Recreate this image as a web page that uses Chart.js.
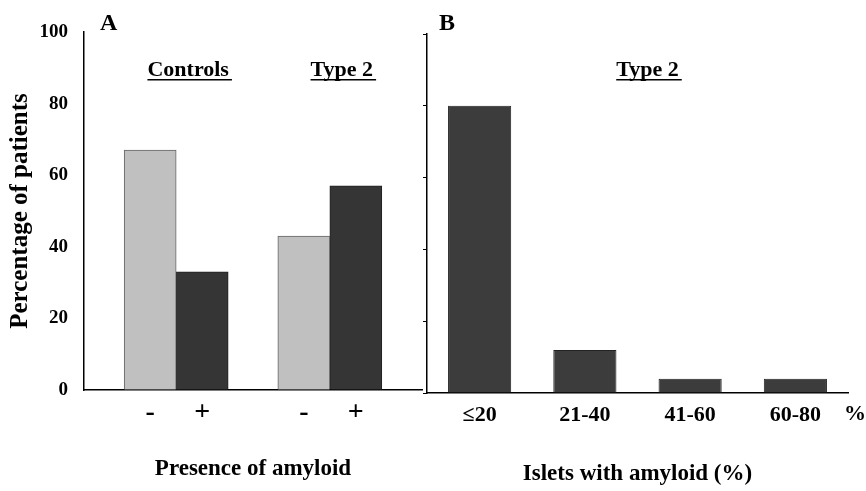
<!DOCTYPE html>
<html>
<head>
<meta charset="utf-8">
<script src="https://cdn.jsdelivr.net/npm/chart.js@4.4.1/dist/chart.umd.min.js"></script>
<style>
  html, body { margin: 0; padding: 0; background: #fff; }
  #wrap { position: relative; width: 866px; height: 491px; }
  canvas { position: absolute; top: 0; }
  #chartA { left: 0; }
  #chartB { left: 420px; }
</style>
</head>
<body>
<div id="wrap">
  <canvas id="chartA" width="430" height="491"></canvas>
  <canvas id="chartB" width="446" height="491"></canvas>
</div>
<script>
// panel A: presence of amyloid, controls vs type 2
const groups = ['Controls', 'Type 2'];
const amyloidSigns = ['-', '+'];
const withoutAmyloid = [67, 43];
const withAmyloid = [33, 57];

// panel B: type 2 patients by share of islets with amyloid
const isletBins = ['\u226420', '21-40', '41-60', '60-80'];
const type2Patients = [80, 12, 4, 4];

const serif = "'Liberation Serif', 'Times New Roman', serif";

function underlined(ctx, text, x, y) {
  ctx.font = 'bold 22px ' + serif;
  ctx.textAlign = 'center';
  ctx.textBaseline = 'alphabetic';
  ctx.fillText(text, x, y);
  const w = ctx.measureText(text).width;
  ctx.fillRect(x - w / 2, y + 3, w + 3, 1.5);
}

const panelA = {
  id: 'panelA',
  afterDatasetsDraw(chart) {
    const ctx = chart.ctx;
    const x = chart.scales.x;
    ctx.save();
    ctx.fillStyle = '#000';
    ctx.textAlign = 'center';
    ctx.textBaseline = 'middle';
    ctx.font = 'bold 28px ' + serif;
    chart.data.datasets.forEach((ds, i) => {
      chart.getDatasetMeta(i).data.forEach(bar => ctx.fillText(amyloidSigns[i], bar.x, 413));
    });
    groups.forEach((g, i) => underlined(ctx, g, x.getPixelForValue(i) + 12, 76));
    ctx.textAlign = 'left';
    ctx.textBaseline = 'alphabetic';
    ctx.font = 'bold 24px ' + serif;
    ctx.fillText('A', 100, 30);
    ctx.restore();
  }
};

const panelB = {
  id: 'panelB',
  afterDatasetsDraw(chart) {
    const ctx = chart.ctx;
    const area = chart.chartArea;
    ctx.save();
    ctx.fillStyle = '#000';
    underlined(ctx, 'Type 2', (area.left + area.right) / 2 + 10, 76);
    ctx.textAlign = 'center';
    ctx.textBaseline = 'middle';
    ctx.font = 'bold 22px ' + serif;
    ctx.fillText('%', area.right + 7, 414);
    ctx.textAlign = 'left';
    ctx.textBaseline = 'alphabetic';
    ctx.font = 'bold 24px ' + serif;
    ctx.fillText('B', 19, 30);
    ctx.restore();
  }
};

const tickFont = { family: serif, weight: 'bold', size: 19 };
const titleFont = { family: serif, weight: 'bold', size: 23 };

new Chart(document.getElementById('chartA'), {
  type: 'bar',
  data: {
    labels: groups,
    datasets: [
      { label: 'Amyloid absent', data: withoutAmyloid, backgroundColor: '#c0c0c0', borderColor: '#666', borderWidth: 1, barThickness: 52 },
      { label: 'Amyloid present', data: withAmyloid, backgroundColor: '#353535', borderColor: '#222', borderWidth: 1, barThickness: 52 }
    ]
  },
  options: {
    responsive: false,
    animation: false,
    devicePixelRatio: 1,
    layout: { padding: { top: 32, right: 8, left: 0, bottom: 0 } },
    plugins: { legend: { display: false }, tooltip: { enabled: false } },
    scales: {
      x: {
        // the two groups sit a bit closer together than an even split
        afterBuildTicks: s => { s._startValue = -0.6; s._valueRange = 2.2; },
        afterFit: s => { s.height = 101; },
        ticks: { display: false },
        grid: { display: false },
        border: { color: '#000', width: 1.5 },
        title: { display: true, text: 'Presence of amyloid', color: '#000', font: titleFont, padding: { top: 0, bottom: 8 } }
      },
      y: {
        min: 0,
        max: 100,
        afterFit: s => { s.width = 84; },
        ticks: { stepSize: 20, color: '#000', font: tickFont, padding: 16 },
        grid: { drawOnChartArea: false, drawTicks: false },
        border: { color: '#000', width: 1.5 },
        title: { display: true, text: 'Percentage of patients', color: '#000', font: { family: serif, weight: 'bold', size: 25 }, padding: { top: 6, bottom: 0 } }
      }
    }
  },
  plugins: [panelA]
});

new Chart(document.getElementById('chartB'), {
  type: 'bar',
  data: {
    labels: isletBins,
    datasets: [
      { label: 'Type 2', data: type2Patients, backgroundColor: '#3c3c3c', borderColor: '#222', borderWidth: 1, barPercentage: 0.6, categoryPercentage: 1 }
    ]
  },
  options: {
    responsive: false,
    animation: false,
    devicePixelRatio: 1,
    layout: { padding: { top: 34, right: 18, left: 0, bottom: 0 } },
    plugins: { legend: { display: false }, tooltip: { enabled: false } },
    scales: {
      x: {
        afterFit: s => { s.height = 98; },
        ticks: { color: '#000', font: { family: serif, weight: 'bold', size: 22 }, padding: 1 },
        grid: { display: false },
        border: { color: '#000', width: 1.5 },
        title: { display: true, text: 'Islets with amyloid (%)', color: '#000', font: titleFont, padding: { top: 0, bottom: 3 } }
      },
      y: {
        min: 0,
        max: 100,
        afterFit: s => { s.width = 7; },
        ticks: { stepSize: 20, display: false },
        grid: { drawOnChartArea: false, drawTicks: true, tickLength: 4, color: '#000' },
        border: { color: '#000', width: 1.5 }
      }
    }
  },
  plugins: [panelB]
});
</script>
</body>
</html>
